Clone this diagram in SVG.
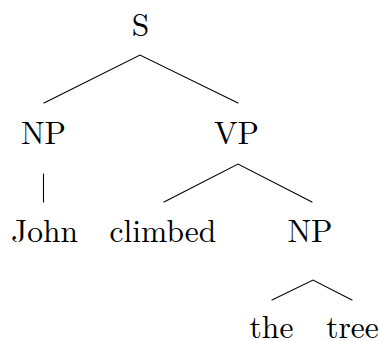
<svg xmlns="http://www.w3.org/2000/svg" width="380" height="341" viewBox="0 0 380 341">
  <style>
    .edge { stroke: #000; stroke-width: 1.1; fill: none; stroke-linecap: round; }
  </style>
  <rect width="380" height="341" fill="#fff"/>
  <!-- tree branches -->
  <g id="connectors">
    <path class="edge" d="M44,103 L140,55 L238,103"/>
    <path class="edge" d="M43.5,174 L43.5,202"/>
    <path class="edge" d="M164,202 L238,164 L312,202"/>
    <path class="edge" d="M272,300 L313,280 L352,300"/>
  </g>
  <!-- node labels -->
  <g id="labels" font-family="'Latin Modern Roman', 'CMU Serif', 'Liberation Serif', serif" font-size="31.5" fill="#000" text-anchor="middle">
    <g id="node-S"><text x="140.5" y="35.5">S</text></g>
    <g id="node-NP1"><text x="43.5" y="144">NP</text></g>
    <g id="node-VP"><text x="236.5" y="144">VP</text></g>
    <g id="node-John"><text x="44.5" y="242">John</text></g>
    <g id="node-climbed"><text x="163" y="242">climbed</text></g>
    <g id="node-NP2"><text x="310" y="242">NP</text></g>
    <g id="node-the"><text x="271.5" y="338">the</text></g>
    <g id="node-tree"><text x="352.5" y="338">tree</text></g>
  </g>
</svg>
